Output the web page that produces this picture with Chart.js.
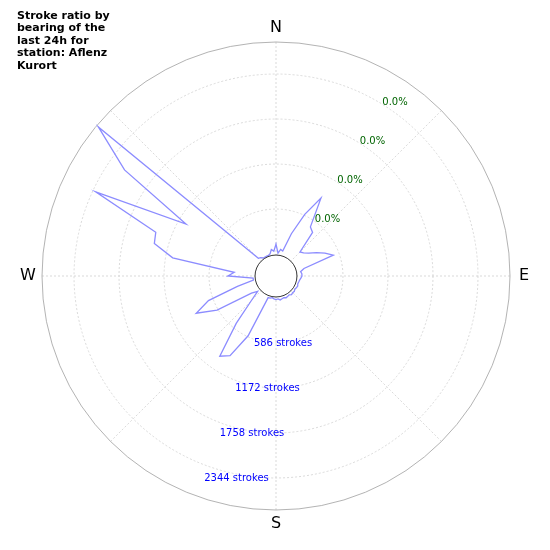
<!DOCTYPE html>
<html>
<head>
<meta charset="utf-8">
<script src="https://cdn.jsdelivr.net/npm/chart.js@4.4.1/dist/chart.umd.min.js"></script>
<style>
  html, body { margin: 0; padding: 0; background: #fff; }
  #wrap { width: 550px; height: 550px; }
</style>
</head>
<body>
<div id="wrap"><canvas id="chart"></canvas></div>
<script>
// Bearings in degrees (5 degree bins, clockwise from north)
const bearings = [];
for (let b = 0; b < 360; b += 5) bearings.push(b);

// Stroke counts per bearing
const strokes = [
  130, 13, 65, 52, 300, 600, 885, 495, 455, 156, 182, 234,
  325, 417, 508, 91, 39, 52, 52, 39, 26, 20, 15, 26,
  20, 13, 26, 20, 30, 13, 20, 26, 13, 20, 30, 13,
  20, 13, 0, 13, 13, 573, 911, 990, 520, 170, 26, 104,
  600, 860, 650, 234, 13, 13, 340, 260, 1080, 1354, 1380, 2305,
  1068, 2122, 2734, 39, 26, 0, 0, 0, 0, 13, 65, 39
];

// Ring ticks and compass labels
const ringTicks = [586, 1172, 1758, 2344];
const ringLabels = ['586 strokes', '1172 strokes', '1758 strokes', '2344 strokes'];
const percentLabels = ['0.0%', '0.0%', '0.0%', '0.0%'];
const compass = ['N', 'E', 'S', 'W'];

const scaleMin = -286;
const scaleMax = 2761;

// Draws rings, hole, compass letters and ring labels using the radial scale
const polarDecor = {
  id: 'polarDecor',
  beforeDatasetsDraw(chart) {
    const s = chart.scales.r;
    const ctx = chart.ctx;
    ctx.save();
    ctx.strokeStyle = '#d0d0d0';
    ctx.lineWidth = 0.8;
    ctx.setLineDash([2, 2]);
    ringTicks.forEach(v => {
      ctx.beginPath();
      ctx.arc(s.xCenter, s.yCenter, s.getDistanceFromCenterForValue(v), 0, Math.PI * 2);
      ctx.stroke();
    });
    ctx.setLineDash([]);
    ctx.strokeStyle = '#a0a0a0';
    ctx.beginPath();
    ctx.arc(s.xCenter, s.yCenter, s.getDistanceFromCenterForValue(scaleMax), 0, Math.PI * 2);
    ctx.stroke();
    ctx.restore();
  },
  afterDatasetsDraw(chart) {
    const s = chart.scales.r;
    const ctx = chart.ctx;
    ctx.save();
    // center hole
    ctx.beginPath();
    ctx.arc(s.xCenter, s.yCenter, s.getDistanceFromCenterForValue(0) - 1, 0, Math.PI * 2);
    ctx.fillStyle = '#fff';
    ctx.fill();
    ctx.strokeStyle = '#000';
    ctx.lineWidth = 0.8;
    ctx.stroke();

    // compass letters
    ctx.fillStyle = '#000';
    ctx.font = '16px "DejaVu Sans"';
    ctx.textAlign = 'center';
    ctx.textBaseline = 'middle';
    const outer = s.getDistanceFromCenterForValue(scaleMax) + 14;
    compass.forEach((c, i) => {
      const a = i * Math.PI / 2;
      ctx.fillText(c, s.xCenter + outer * Math.sin(a), s.yCenter - outer * Math.cos(a));
    });

    // ring labels
    ctx.font = '10px "DejaVu Sans"';
    ringTicks.forEach((v, i) => {
      const r = s.getDistanceFromCenterForValue(v);
      ctx.fillStyle = '#0000ff';
      ctx.fillText(ringLabels[i], s.xCenter + 7 - 15.5 * i, s.yCenter + r);
      const a = Math.PI / 6;
      ctx.fillStyle = '#006400';
      ctx.fillText(percentLabels[i], s.xCenter + r * Math.sin(a) + 18, s.yCenter - r * Math.cos(a) + 1);
    });

    // title
    ctx.fillStyle = '#000';
    ctx.font = 'bold 11px "DejaVu Sans"';
    ctx.textAlign = 'left';
    ['Stroke ratio by', 'bearing of the', 'last 24h for', 'station: Aflenz', 'Kurort']
      .forEach((t, i) => ctx.fillText(t, 17, 16 + i * 12.5));
    ctx.restore();
  }
};

new Chart(document.getElementById('chart'), {
  type: 'radar',
  data: {
    labels: bearings.map(b => b + '°'),
    datasets: [{
      data: strokes,
      borderColor: '#8c8cff',
      borderWidth: 1.3,
      fill: false,
      pointRadius: 0,
      tension: 0
    }]
  },
  options: {
    responsive: true,
    maintainAspectRatio: false,
    animation: false,
    layout: { padding: { left: 42, right: 40, top: 42, bottom: 40 } },
    plugins: { legend: { display: false }, tooltip: { enabled: false } },
    scales: {
      r: {
        min: scaleMin,
        max: scaleMax,
        ticks: { display: false },
        grid: { display: false },
        pointLabels: { display: false },
        angleLines: {
          display: true,
          color: c => (c.index % 9 === 0 ? '#d0d0d0' : 'rgba(0,0,0,0)'),
          lineWidth: 0.8,
          borderDash: [2, 2]
        }
      }
    }
  },
  plugins: [polarDecor]
});
</script>
</body>
</html>
